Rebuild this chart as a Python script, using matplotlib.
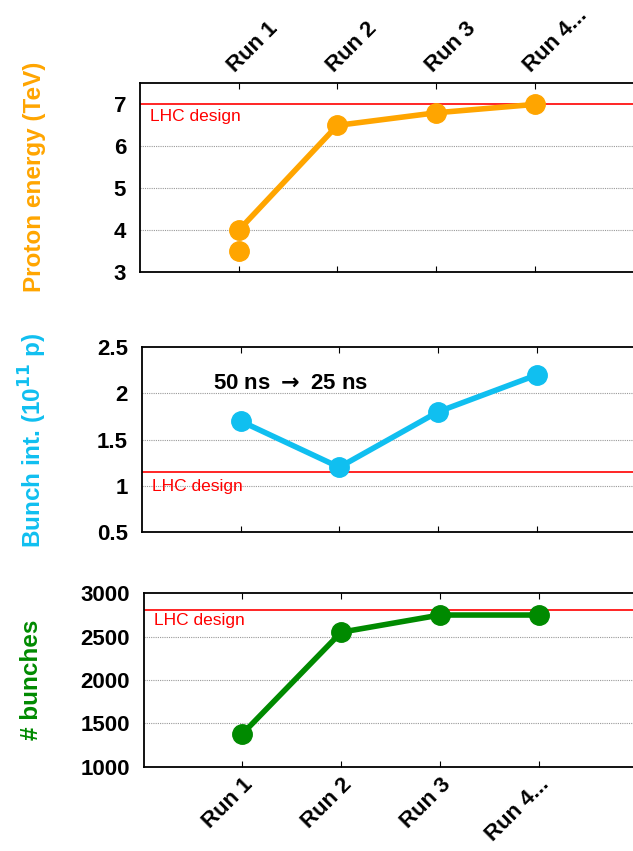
import numpy as np
import matplotlib
matplotlib.use("Agg")
import matplotlib.pyplot as plt
from matplotlib.ticker import FormatStrFormatter

plt.rcParams['font.family'] = ['Liberation Sans', 'DejaVu Sans']
plt.rcParams['font.weight'] = 'bold'

runs = ["Run 1", "Run 2", "Run 3", "Run 4..."]
run_pos = [1, 2, 3, 4]

# proton energy (TeV)
energy_x = [1, 2, 3, 4]
energy = [4.0, 6.5, 6.8, 7.0]
energy_extra_x = [1]
energy_extra = [3.5]
energy_design = 7.0

# bunch intensity (1e11 p)
intensity = [1.7, 1.2, 1.8, 2.2]
intensity_design = 1.15

# number of bunches
bunches = [1380, 2550, 2748, 2748]
bunches_design = 2808

orange = "#FFA500"
cyan = "#10BFF0"
green = "#008A00"

fig = plt.figure(figsize=(6.33, 8.51), dpi=100, facecolor="w")

def panel(rect, ylim, yticks, grid):
    ax = fig.add_axes(rect)
    ax.set_xlim(0, 5)
    ax.set_ylim(*ylim)
    ax.set_yticks(yticks)
    ax.yaxis.set_major_formatter(FormatStrFormatter("%g"))
    ax.set_xticks(run_pos)
    for y in grid:
        ax.axhline(y, color="#999999", lw=0.8, ls=(0, (1, 1)), zorder=0)
    for s in ["left", "top", "bottom"]:
        ax.spines[s].set_linewidth(1.3)
    ax.spines["right"].set_visible(False)
    ax.tick_params(axis="y", length=0, labelsize=16, pad=10)
    ax.tick_params(axis="x", direction="in", length=4, top=True, bottom=True,
                   labeltop=False, labelbottom=False)
    return ax

def design(ax, y, gap):
    ax.axhline(y, color="red", lw=1.2, zorder=1)
    ax.annotate("LHC design", xy=(0.1, y), xytext=(0, -gap), textcoords="offset points",
                color="red", fontsize=12.5, fontweight="normal", va="top", ha="left")

# --- top: energy
ax1 = panel([0.221, 0.680, 0.78, 0.222], (3, 7.5), [3, 4, 5, 6, 7], [4, 5, 6])
design(ax1, energy_design, 3)
ax1.plot(energy_x, energy, "-o", color=orange, lw=4, ms=14, zorder=3)
ax1.plot(energy_extra_x, energy_extra, "o", color=orange, ms=14, zorder=3)
ax1.tick_params(axis="x", labeltop=True, pad=5)
ax1.set_xticklabels(runs, rotation=45, ha="left", va="bottom",
                    rotation_mode="anchor", fontsize=16)
fig.text(0.055, 0.792, "Proton energy (TeV)", color=orange, rotation=90,
         ha="center", va="center", fontsize=17.5, fontweight="bold")

# --- middle: bunch intensity
ax2 = panel([0.224, 0.375, 0.78, 0.217], (0.5, 2.5), [0.5, 1, 1.5, 2, 2.5], [1, 1.5, 2])
design(ax2, intensity_design, 5)
ax2.plot(run_pos, intensity, "-o", color=cyan, lw=4, ms=14, zorder=3)
ax2.text(0.72, 2.11, r"50 ns $\rightarrow$ 25 ns", fontsize=16, fontweight="bold",
         ha="left", va="center")
fig.text(0.052, 0.483, r"Bunch int. (10$^{\mathbf{11}}$ p)", color=cyan, rotation=90,
         ha="center", va="center", fontsize=17.5, fontweight="bold")

# --- bottom: number of bunches
ax3 = panel([0.227, 0.099, 0.78, 0.204], (1000, 3000), [1000, 1500, 2000, 2500, 3000],
            [1500, 2000, 2500])
design(ax3, bunches_design, 2)
ax3.plot(run_pos, bunches, "-o", color=green, lw=4, ms=14, zorder=3)
ax3.tick_params(axis="x", labelbottom=True, pad=5)
ax3.set_xticklabels(runs, rotation=45, ha="right", va="top",
                    rotation_mode="anchor", fontsize=16)
fig.text(0.05, 0.201, "# bunches", color=green, rotation=90,
         ha="center", va="center", fontsize=17.5, fontweight="bold")

fig.savefig("out.png", dpi=100)
